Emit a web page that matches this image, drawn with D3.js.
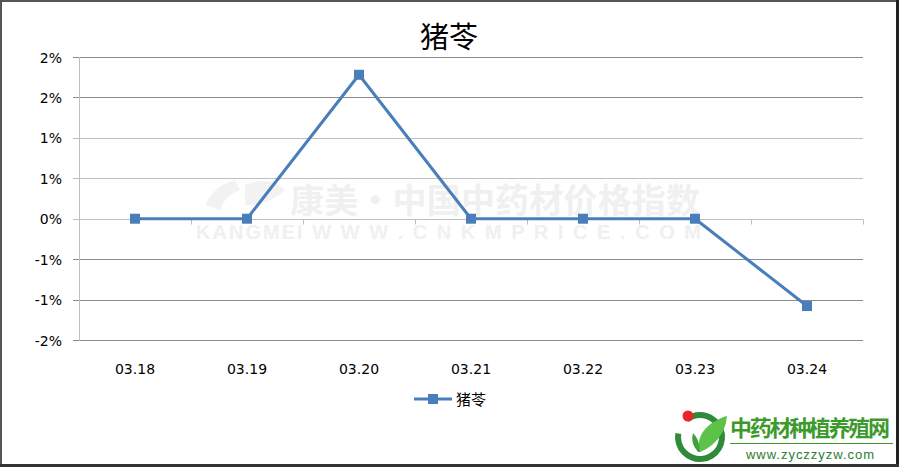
<!DOCTYPE html>
<html><head><meta charset="utf-8">
<script src="https://cdn.jsdelivr.net/npm/d3@7"></script>
<style>body{margin:0;background:#fff}svg{display:block}</style>
</head><body>
<svg id="c" width="899" height="467"></svg>
<script>
const categories = ["03.18","03.19","03.20","03.21","03.22","03.23","03.24"];
const seriesName = "猪苓";
const values = [0, 0, 1.78, 0, 0, 0, -1.08];
const yTickValues = [-1.5, -1.0, -0.5, 0, 0.5, 1.0, 1.5, 2.0];
const yTickLabels = ["-2%","-1%","-1%","0%","1%","1%","2%","2%"];

const svg = d3.select("#c");
const W = 899, H = 467;
const font = "'DejaVu Sans', 'Liberation Sans', sans-serif";
const font2 = "'Liberation Sans', sans-serif";
const cjk = "'Noto Sans CJK SC', sans-serif";
const blue = "#4a7ebb";

svg.append("rect").attr("width", W).attr("height", H).attr("fill", "#fff");

// watermark
const wm = svg.append("g").attr("fill", "#f0f0f0").attr("font-weight", "bold");
wm.append("text").attr("x", 290).attr("y", 213).attr("font-family", cjk).attr("font-size", 34).attr("textLength", 410).text("康美·中国中药材价格指数");
wm.append("text").attr("x", 196).attr("y", 239).attr("font-family", font2).attr("font-size", 20).attr("textLength", 505).attr("lengthAdjust","spacing").text("KANGMEI  W W W . C N K M P R I C E . C O M");
wm.append("path").attr("d", "M205 205 Q215 185 235 180 L240 190 Q225 195 220 210 Z M245 185 Q270 175 285 190 Q270 205 245 205 Z").attr("fill", "#f2f2f2");

const x = d3.scaleBand().domain(categories).range([79, 863]);
const y = d3.scaleLinear().domain([-1.5, 2.0]).range([340, 57]);

// gridlines
const darkTicks = [2.0, 1.5, -0.5, -1.0, -1.5];
svg.append("g").selectAll("line").data(yTickValues).join("line")
  .attr("x1", 73).attr("x2", 863)
  .attr("y1", d => Math.round(y(d)) + 0.5).attr("y2", d => Math.round(y(d)) + 0.5)
  .attr("stroke", d => darkTicks.includes(d) ? "#8a8a8a" : "#bfbfbf").attr("stroke-width", 1);

// y axis line
svg.append("line").attr("x1", 79.5).attr("x2", 79.5).attr("y1", 57).attr("y2", 341)
  .attr("stroke", "#bfbfbf");

// y labels
svg.append("g").selectAll("text").data(yTickValues).join("text")
  .attr("x", 62).attr("y", d => y(d) + 5.5)
  .attr("text-anchor", "end").attr("font-family", font).attr("font-size", 14).attr("fill", "#000")
  .text((d, i) => yTickLabels[i]);

// x axis at zero
const y0 = Math.round(y(0)) + 0.5;
const bounds = categories.map(c => x(c)).concat([x.range()[1]]);
svg.append("g").selectAll("line").data(bounds).join("line")
  .attr("x1", d => Math.round(d) + 0.5).attr("x2", d => Math.round(d) + 0.5)
  .attr("y1", y0).attr("y2", y0 + 5).attr("stroke", "#bfbfbf");

// x labels
svg.append("g").selectAll("text").data(categories).join("text")
  .attr("x", d => x(d) + x.bandwidth() / 2).attr("y", 374)
  .attr("text-anchor", "middle").attr("font-family", font).attr("font-size", 14).attr("fill", "#000")
  .text(d => d);

// line
const pts = categories.map((c, i) => [x(c) + x.bandwidth() / 2, y(values[i])]);
svg.append("path").attr("d", d3.line()(pts)).attr("fill", "none")
  .attr("stroke", blue).attr("stroke-width", 3).attr("stroke-linejoin", "round");
svg.append("g").selectAll("rect").data(pts).join("rect")
  .attr("x", d => d[0] - 5).attr("y", d => d[1] - 5).attr("width", 10).attr("height", 10)
  .attr("fill", blue);

// title
svg.append("text").attr("x", 449).attr("y", 48).attr("text-anchor", "middle")
  .attr("font-family", cjk).attr("font-size", 29).attr("fill", "#000").text(seriesName);

// legend
svg.append("line").attr("x1", 414).attr("x2", 452).attr("y1", 399).attr("y2", 399)
  .attr("stroke", blue).attr("stroke-width", 3);
svg.append("rect").attr("x", 428).attr("y", 394).attr("width", 10).attr("height", 10).attr("fill", blue);
svg.append("text").attr("x", 456).attr("y", 404.5).attr("font-family", cjk).attr("font-size", 15)
  .attr("fill", "#000").text(seriesName);

// logo
const lg = svg.append("g");
lg.append("path").attr("d", d3.arc()({innerRadius: 19, outerRadius: 25, startAngle: -Math.PI * 0.2, endAngle: Math.PI * 1.55}))
  .attr("transform", "translate(700,437)").attr("fill", "#2e8b3a");
lg.append("circle").attr("cx", 688).attr("cy", 416).attr("r", 5.5).attr("fill", "#e8262a");
lg.append("path").attr("d", "M700 452 Q695 435 712 423 Q722 417 727 416 Q726 433 712 445 Q706 450 700 452 Z").attr("fill", "#5cc24a");
lg.append("path").attr("d", "M698 452 Q690 443 693 433 Q700 440 700 452 Z").attr("fill", "#3fa33a");
lg.append("text").attr("x", 730).attr("y", 436).attr("font-family", cjk).attr("font-size", 22).attr("font-weight", "bold")
  .attr("fill", "#3c9a2c").attr("textLength", 160).text("中药材种植养殖网");
lg.append("line").attr("x1", 730).attr("x2", 893).attr("y1", 443.5).attr("y2", 443.5).attr("stroke", "#3c9a2c");
lg.append("text").attr("x", 746).attr("y", 459).attr("font-family", font2).attr("font-size", 13)
  .attr("fill", "#2e7d2e").attr("textLength", 128).text("www.zyczzyzw.com");

// frame
svg.append("rect").attr("x", 1).attr("y", 1).attr("width", W - 3).attr("height", H - 3)
  .attr("fill", "none").attr("stroke", "#555").attr("stroke-width", 2);
svg.append("line").attr("x1", W - 1.5).attr("x2", W - 1.5).attr("y1", 0).attr("y2", H).attr("stroke", "#222").attr("stroke-width", 3);
svg.append("line").attr("x1", 0).attr("x2", W).attr("y1", H - 1.5).attr("y2", H - 1.5).attr("stroke", "#333").attr("stroke-width", 3);
</script>
</body></html>
